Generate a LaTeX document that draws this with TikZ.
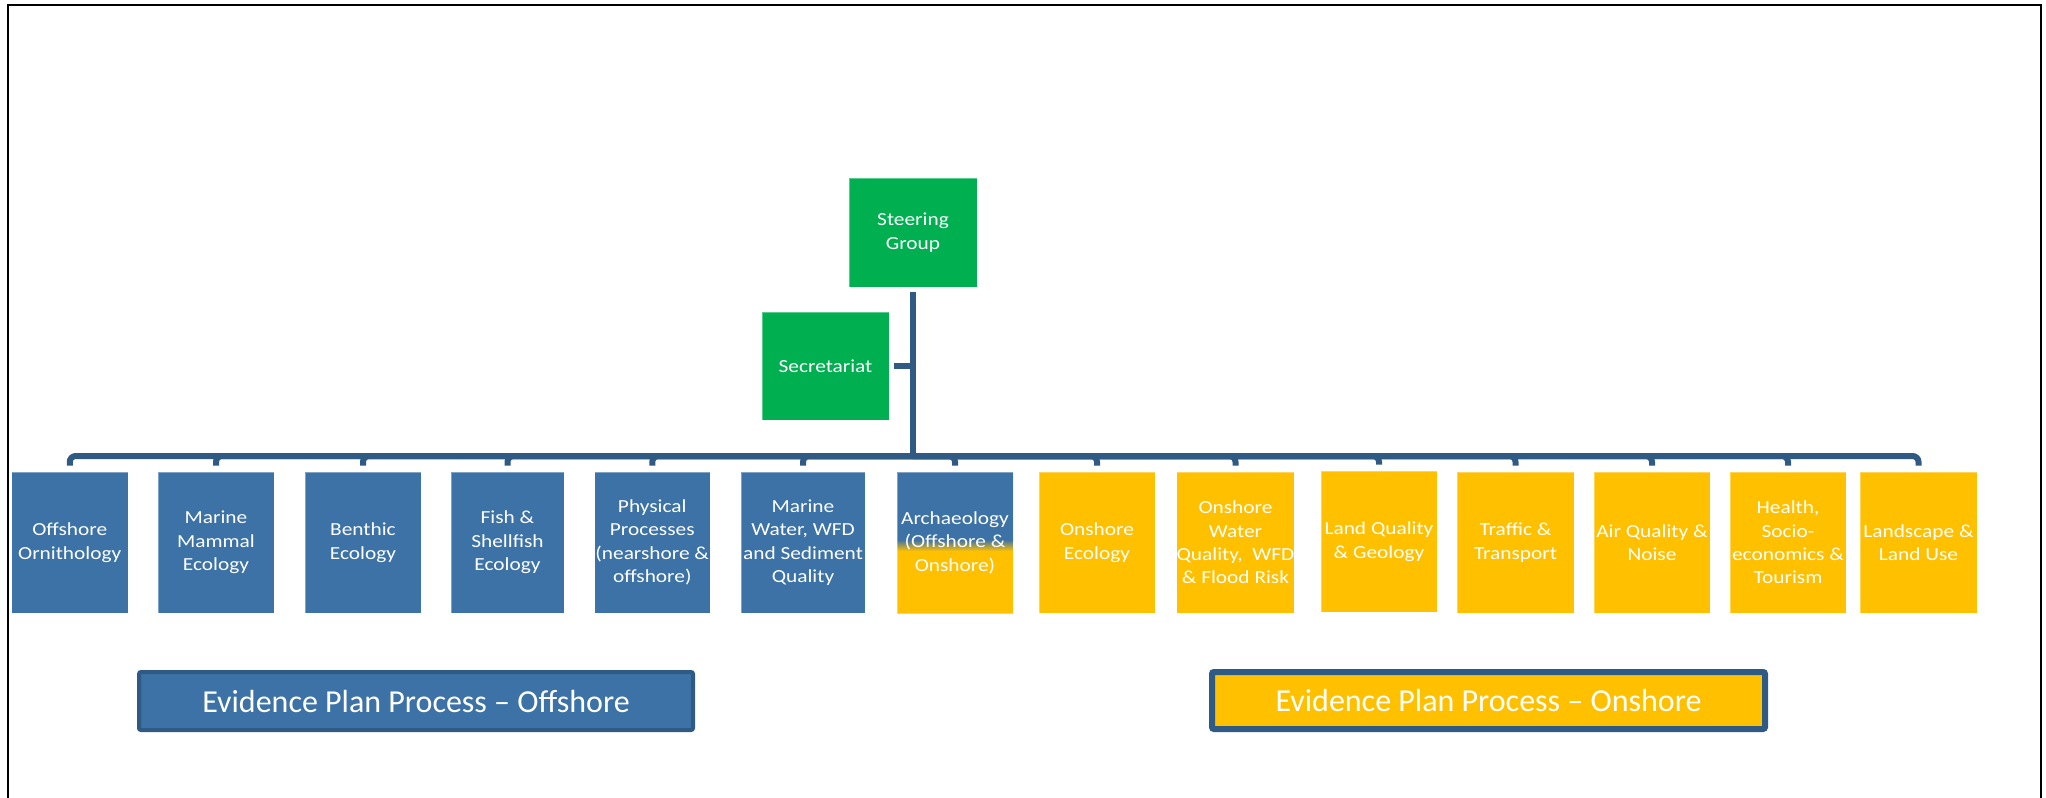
\documentclass[tikz,border=0pt]{standalone}
\usepackage{fontspec}
\setmainfont{Carlito}
\newfontfamily\boxfont[FakeStretch=1.16]{Carlito}
\definecolor{sblue}{HTML}{3C72A6}
\definecolor{lineblue}{HTML}{2E5A84}
\definecolor{sgreen}{HTML}{00B050}
\definecolor{ygold}{HTML}{FFC000}
\pgfdeclareverticalshading{archshade}{100bp}{color(0bp)=(ygold); color(47bp)=(ygold); color(51bp)=(sblue); color(100bp)=(sblue)}
\tikzset{
  tbox/.style={minimum height=70.5pt, inner sep=0pt, align=center, text=white,
    font=\boxfont\fontsize{9.2pt}{11.7pt}\selectfont, draw=white, draw opacity=0.35, line width=0.4pt},
  bluebox/.style={tbox, fill=sblue},
  goldbox/.style={tbox, fill=ygold},
  archbox/.style={tbox, shading=archshade},
  greenbox/.style={tbox, fill=sgreen},
  conn/.style={draw=lineblue, line width=3pt},
  evbox/.style={inner sep=0pt, align=center, text=white, rounded corners=1pt,
    font=\fontsize{16pt}{19pt}\selectfont, draw=lineblue},
}
\begin{document}
\begin{tikzpicture}[x=0.5pt, y=-0.5pt]
\useasboundingbox (0,0) rectangle (2046,798);
\fill[white] (0,0) rectangle (2046,798);
\draw[black, line width=1pt] (8,798) -- (8,5) -- (2041,5) -- (2041,798);

% top
\node[greenbox, minimum width=64pt, minimum height=54.5pt] (steer) at (913,232.5) {Steering\\Group};
\node[greenbox, minimum width=63.5pt, minimum height=54pt] (sec) at (825.5,366) {Secretariat};
\coordinate (bus) at (913,456);

% boxes
\node[bluebox, minimum width=58.25pt] (b1) at (69.75,542.5) {Offshore\\Ornithology};
\node[bluebox, minimum width=58pt] (b2) at (216,542.5) {Marine\\Mammal\\Ecology};
\node[bluebox, minimum width=58pt] (b3) at (363,542.5) {Benthic\\Ecology};
\node[bluebox, minimum width=56.5pt] (b4) at (507.5,542.5) {Fish \&\\Shellfish\\Ecology};
\node[bluebox, minimum width=57.75pt] (b5) at (652.25,542.5) {Physical\\Processes\\(nearshore \&\\offshore)};
\node[bluebox, minimum width=62pt] (b6) at (803,542.5) {Marine\\Water, WFD\\and Sediment\\Quality};
\node[archbox, minimum width=58pt] (b7) at (955,542.5) {Archaeology\\(Offshore \&\\Onshore)};
\node[goldbox, minimum width=58pt] (b8) at (1097,542.5) {Onshore\\Ecology};
\node[goldbox, minimum width=58.5pt] (b9) at (1235.5,542.5) {Onshore\\Water\\Quality,\ \ WFD\\\& Flood Risk};
\node[goldbox, minimum width=58pt] (b10) at (1379,541.5) {Land Quality\\\& Geology};
\node[goldbox, minimum width=58.5pt] (b11) at (1515.5,542.5) {Traffic \&\\Transport};
\node[goldbox, minimum width=58pt] (b12) at (1652,542.5) {Air Quality \&\\Noise};
\node[goldbox, minimum width=58pt] (b13) at (1788,542.5) {Health,\\Socio-\\economics \&\\Tourism};
\node[goldbox, minimum width=58.5pt] (b14) at (1918.5,542.5) {Landscape \&\\Land Use};

% connectors
\draw[conn, shorten <=2.5pt] (steer.south) -- (bus);
\draw[conn, shorten <=2.5pt] (sec.east) -- (sec.east -| steer.south);
\foreach \b in {b1,b2,b3,b4,b5,b6,b7,b8,b9,b10,b11,b12,b13,b14}{
  \draw[conn, rounded corners=3pt, shorten >=3pt] (bus) -| (\b.north);
}

% evidence plan boxes
\node[evbox, fill=sblue, line width=2pt, minimum width=277pt, minimum height=29pt] (evoff) at (416,701) {\raisebox{-1.5pt}{Evidence Plan Process – Offshore}};
\node[evbox, fill=ygold, line width=3pt, minimum width=276.5pt, minimum height=28.5pt] (evon) at (1488.5,700.5) {\raisebox{-1.5pt}{Evidence Plan Process – Onshore}};
\end{tikzpicture}
\end{document}
